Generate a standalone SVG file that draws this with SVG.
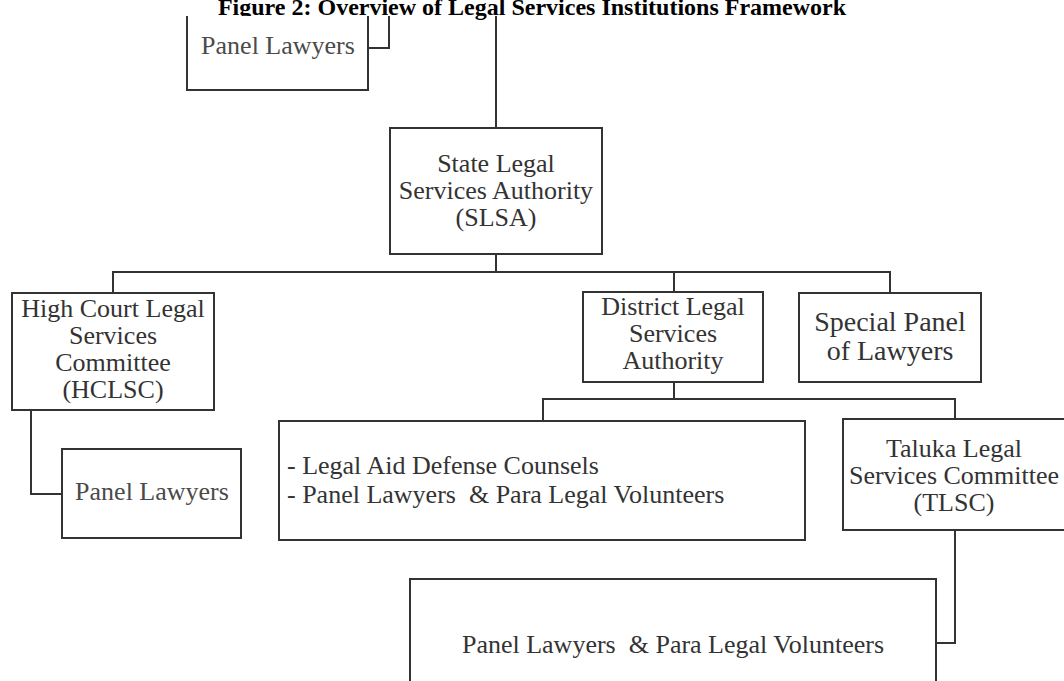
<svg xmlns="http://www.w3.org/2000/svg" width="1064" height="681" viewBox="0 0 1064 681">
<style>
.box{fill:#fff;stroke:#333;stroke-width:2}
.ln{fill:none;stroke:#333;stroke-width:2}
text{font-family:"Liberation Serif","Times New Roman",serif;font-size:26px;fill:#333}
.c{text-anchor:middle}
.pl{fill:#4a4a4a}
.title{font-weight:bold;font-size:24px;fill:#000}
</style>
<rect width="1064" height="681" fill="#fff"/>
<g id="connectors">
<path class="ln" d="M368,48 H389 V16"/>
<path class="ln" d="M496,16 V128"/>
<path class="ln" d="M496,254 V272"/>
<path class="ln" d="M113,293 V272 H890 V293"/>
<path class="ln" d="M674,272 V292"/>
<path class="ln" d="M31,410 V494 H62"/>
<path class="ln" d="M674,382 V399"/>
<path class="ln" d="M543,421 V399 H955 V419"/>
<path class="ln" d="M955,530 V643 H936"/>
</g>
<g id="title">
<text class="title c" x="532" y="15">Figure 2: Overview of Legal Services Institutions Framework</text>
</g>
<g id="panel-lawyers-top">
<path class="box" d="M187,16 V90 H368 V16"/>
<text class="c pl" x="278" y="54">Panel Lawyers</text>
</g>
<g id="slsa">
<rect class="box" x="390" y="128" width="212" height="126"/>
<text class="c" x="496" y="172">State Legal</text>
<text class="c" x="496" y="199">Services Authority</text>
<text class="c" x="496" y="226">(SLSA)</text>
</g>
<g id="hclsc">
<rect class="box" x="12" y="293" width="202" height="117"/>
<text class="c" x="113" y="317">High Court Legal</text>
<text class="c" x="113" y="344">Services</text>
<text class="c" x="113" y="371">Committee</text>
<text class="c" x="113" y="398">(HCLSC)</text>
</g>
<g id="panel-lawyers-hc">
<rect class="box" x="62" y="449" width="179" height="89"/>
<text class="c pl" x="152" y="500">Panel Lawyers</text>
</g>
<g id="dlsa">
<rect class="box" x="583" y="292" width="180" height="90"/>
<text class="c" x="673" y="315">District Legal</text>
<text class="c" x="673" y="342">Services</text>
<text class="c" x="673" y="369">Authority</text>
</g>
<g id="special-panel">
<rect class="box" x="799" y="293" width="182" height="89"/>
<text class="c" x="890" y="331" style="font-size:28px">Special Panel</text>
<text class="c" x="890" y="360" style="font-size:28px">of Lawyers</text>
</g>
<g id="legal-aid">
<rect class="box" x="279" y="421" width="526" height="119"/>
<text x="287" y="474">- Legal Aid Defense Counsels</text>
<text x="287" y="503" style="white-space:pre">- Panel Lawyers  &amp; Para Legal Volunteers</text>
</g>
<g id="tlsc">
<rect class="box" x="843" y="419" width="224" height="111"/>
<text class="c" x="954" y="457">Taluka Legal</text>
<text class="c" x="954" y="484">Services Committee</text>
<text class="c" x="954" y="511">(TLSC)</text>
</g>
<g id="panel-para-bottom">
<rect class="box" x="410" y="579" width="526" height="120"/>
<text class="c" x="673" y="653" style="white-space:pre">Panel Lawyers  &amp; Para Legal Volunteers</text>
</g>
</svg>
